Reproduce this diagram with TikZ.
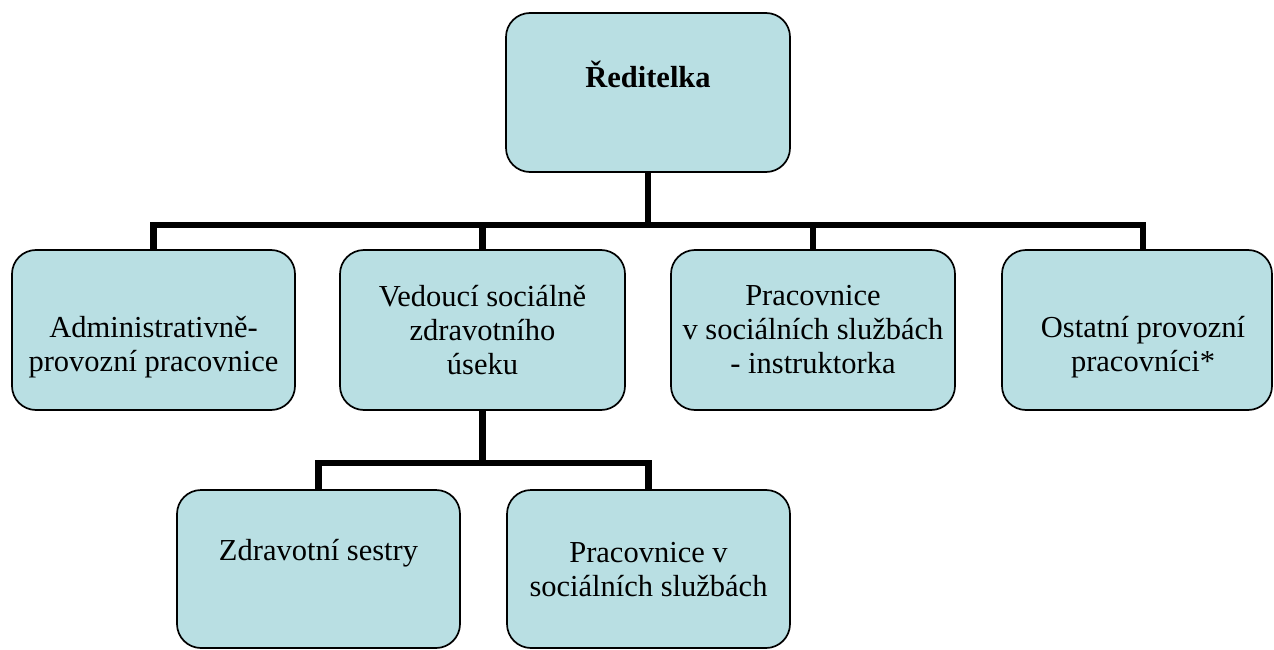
\documentclass[tikz,border=0pt]{standalone}
\usepackage{fontspec}
\setmainfont{Liberation Serif}
\usetikzlibrary{calc}
\definecolor{boxfill}{RGB}{185,223,227}
\pgfdeclarelayer{background}
\pgfsetlayers{background,main}
\begin{document}
\begin{tikzpicture}[x=1pt,y=-1pt,
  box/.style={draw=black,line width=1.7pt,fill=boxfill,rounded corners=24pt,inner sep=0pt,minimum height=160pt},
  txt/.style={align=center,inner sep=0pt,font=\fontsize{30.5}{34}\selectfont},
  conn/.style={line width=6.5pt,black}]
\useasboundingbox (0,0) rectangle (1274,650);
% boxes
\node[box,minimum width=284pt,minimum height=159pt] (top) at (648,92.5) {};
\node[box,minimum width=283pt] (b1) at (153.5,330) {};
\node[box,minimum width=285pt] (b2) at (482.5,330) {};
\node[box,minimum width=284pt] (b3) at (813,330) {};
\node[box,minimum width=270pt] (b4) at (1137,330) {};
\node[box,minimum width=283pt,minimum height=158pt] (b5) at (318.5,569) {};
\node[box,minimum width=283pt,minimum height=158pt] (b6) at (648.5,569) {};
% connectors (behind the boxes)
\coordinate (bus) at (0,225);
\coordinate (bus2) at (0,463);
\coordinate (d4) at ($(b4.north)+(6,0)$);
\begin{pgfonlayer}{background}
\draw[conn] (top.south) -- (top.south |- bus);
\draw[conn] (b1.north) -- (b1.north |- bus) -- (d4 |- bus) -- (d4);
\draw[conn] (b2.north) -- (b2.north |- bus);
\draw[conn] (b3.north) -- (b3.north |- bus);
\draw[conn] (b2.south) -- (b2.south |- bus2);
\draw[conn] (b5.north) -- (b5.north |- bus2) -- (b6.north |- bus2) -- (b6.north);
\end{pgfonlayer}
% texts
\node[txt] (ttop) at ($(top.center)+(0,-18)$) {\textbf{Ředitelka}};
\node[txt] (t1) at ($(b1.center)+(0,17)$) {Administrativně-\\provozní pracovnice};
\node[txt] (t2) at ($(b2.center)+(0,0)$) {Vedoucí sociálně\\zdravotního\\úseku};
\node[txt] (t3) at ($(b3.center)+(0,0)$) {Pracovnice\\v sociálních službách\\- instruktorka};
\node[txt] (t4) at ($(b4.center)+(6,17)$) {Ostatní provozní\\pracovníci*};
\node[txt] (t5) at ($(b5.center)+(0,-16)$) {Zdravotní sestry};
\node[txt] (t6) at ($(b6.center)+(0,1)$) {Pracovnice v\\sociálních službách};
\end{tikzpicture}
\end{document}
